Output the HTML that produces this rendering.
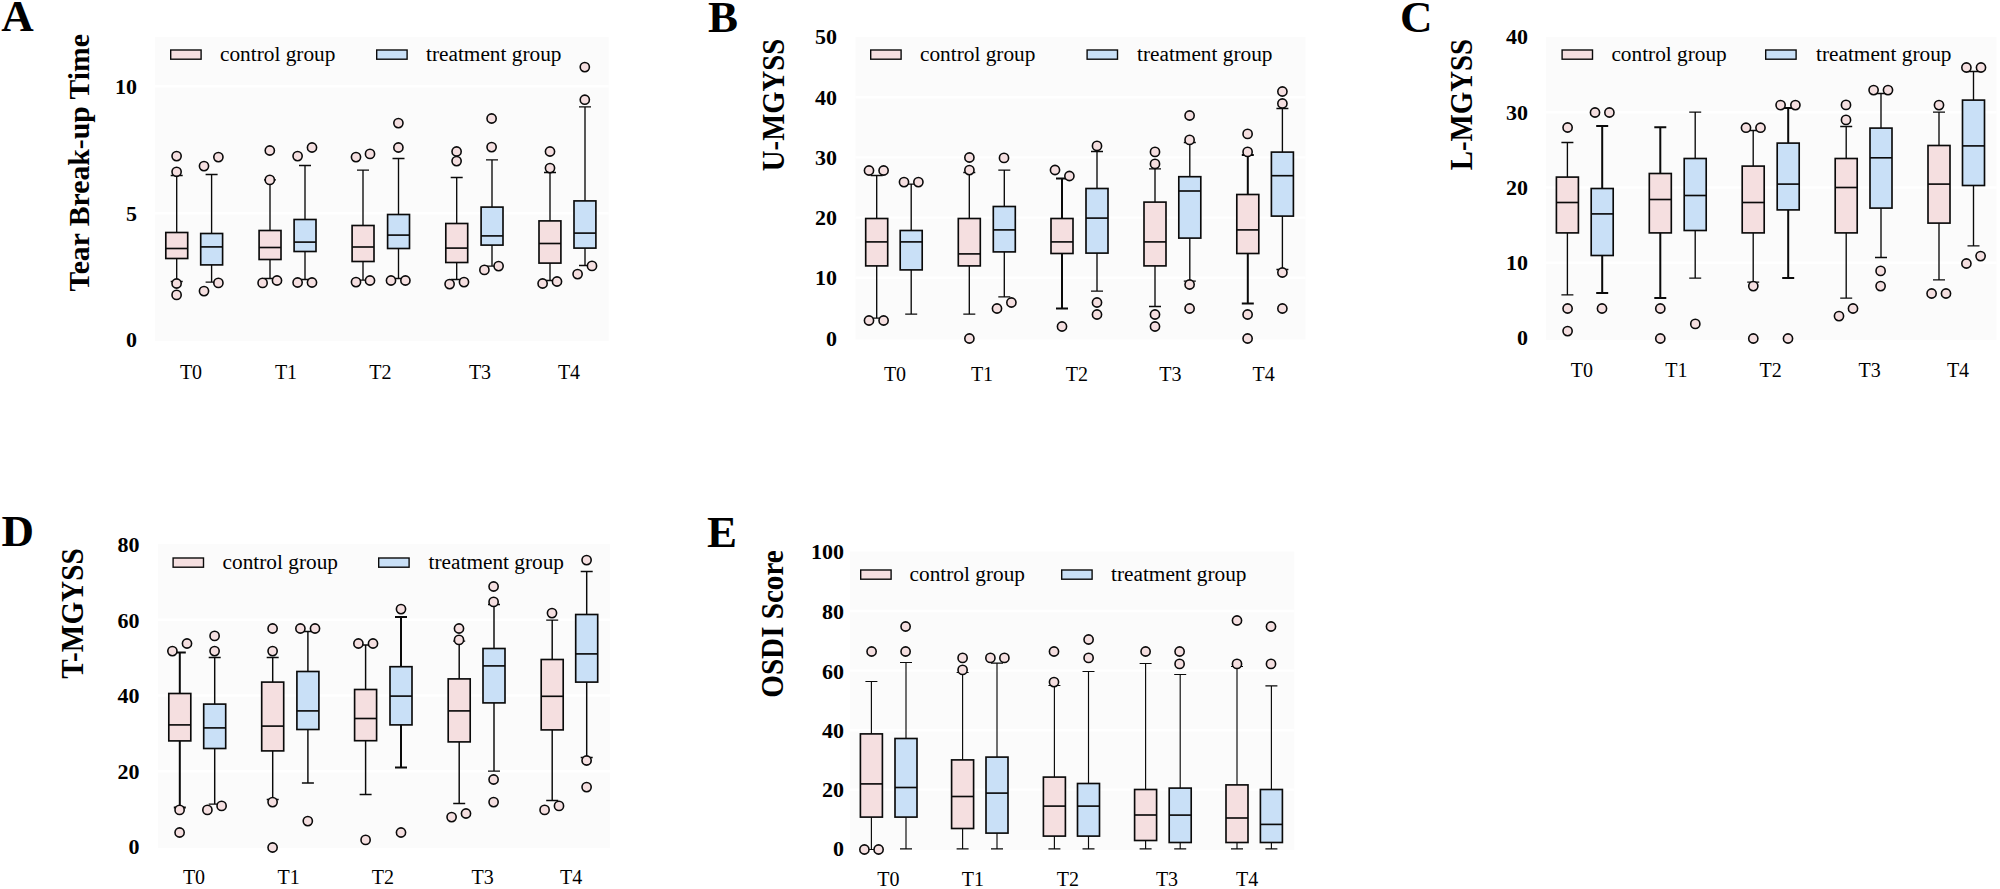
<!DOCTYPE html>
<html lang="en"><head><meta charset="utf-8"><title>Figure</title>
<style>
html,body{margin:0;padding:0;background:#fff;}
body{width:2000px;height:889px;overflow:hidden;}
svg{display:block;font-family:"Liberation Serif","DejaVu Serif",serif;}
.pl{font-weight:bold;font-size:45px;}
.yl{font-weight:bold;font-size:29.5px;}
.yt{font-weight:bold;font-size:22px;text-anchor:end;}
.xt{font-size:20px;text-anchor:middle;}
.lg{font-size:21.3px;}
.bx{stroke:#0a0a0a;stroke-width:1.65;}
.wl{stroke:#0a0a0a;stroke-width:1.35;fill:none;}
.md{stroke:#0a0a0a;stroke-width:1.65;}
.oc{fill:#f5dfe0;stroke:#0a0a0a;stroke-width:1.6;}
.gl{stroke:#fff;stroke-width:2.4;}
</style></head><body>
<svg width="2000" height="889" viewBox="0 0 2000 889">
<rect x="0" y="0" width="2000" height="889" fill="#fff"/>
<g>
<rect x="155" y="37" width="453.6" height="304" fill="#fbfbfb"/>
<line class="gl" x1="155" y1="86.2" x2="608.6" y2="86.2"/>
<line class="gl" x1="155" y1="213.3" x2="608.6" y2="213.3"/>
<text class="pl" x="1.3" y="31.3">A</text>
<text class="yl" style="font-size:29.5px" text-anchor="middle" textLength="257.5" lengthAdjust="spacingAndGlyphs" transform="translate(88.7 162.7) rotate(-90)">Tear Break-up Time</text>
<text class="yt" x="137" y="94">10</text>
<text class="yt" x="137" y="220.6">5</text>
<text class="yt" x="137" y="347.4">0</text>
<text class="xt" x="191" y="379">T0</text>
<text class="xt" x="286" y="379">T1</text>
<text class="xt" x="380.3" y="379">T2</text>
<text class="xt" x="480" y="379">T3</text>
<text class="xt" x="569" y="379">T4</text>
<rect class="bx" style="stroke-width:1.4" x="170.7" y="50" width="30.4" height="9.2" fill="#f5dfe0"/>
<text class="lg" x="220" y="61">control group</text>
<rect class="bx" style="stroke-width:1.4" x="376.7" y="50" width="30.4" height="9.2" fill="#c9e0f7"/>
<text class="lg" x="426" y="61">treatment group</text>
<path class="wl" style="stroke-width:1.35" d="M176.7 175.5V232.5M176.7 258.5V281.5M170.7 175.5H182.7M170.7 281.5H182.7"/>
<rect class="bx" x="165.8" y="232.5" width="21.9" height="26" fill="#f5dfe0"/>
<line class="md" x1="165.8" y1="248.5" x2="187.6" y2="248.5"/>
<circle class="oc" cx="176.6" cy="156.1" r="4.6"/>
<circle class="oc" cx="176.6" cy="171.8" r="4.6"/>
<circle class="oc" cx="176.6" cy="283.5" r="4.6"/>
<circle class="oc" cx="176.6" cy="294.9" r="4.6"/>
<path class="wl" style="stroke-width:1.35" d="M211.6 174.5V233.5M211.6 264.9V282.1M205.6 174.5H217.6M205.6 282.1H217.6"/>
<rect class="bx" x="200.7" y="233.5" width="21.9" height="31.4" fill="#c9e0f7"/>
<line class="md" x1="200.7" y1="246.9" x2="222.5" y2="246.9"/>
<circle class="oc" cx="204" cy="166.1" r="4.6"/>
<circle class="oc" cx="218.4" cy="157.1" r="4.6"/>
<circle class="oc" cx="218.4" cy="282.9" r="4.6"/>
<circle class="oc" cx="204" cy="291.1" r="4.6"/>
<path class="wl" style="stroke-width:1.35" d="M270 179.9V230.5M270 259.5V278.5M264 179.9H276M264 278.5H276"/>
<rect class="bx" x="259.1" y="230.5" width="21.9" height="29" fill="#f5dfe0"/>
<line class="md" x1="259.1" y1="247.5" x2="280.9" y2="247.5"/>
<circle class="oc" cx="269.8" cy="150.5" r="4.6"/>
<circle class="oc" cx="269.8" cy="179.9" r="4.6"/>
<circle class="oc" cx="262.6" cy="282.9" r="4.6"/>
<circle class="oc" cx="277" cy="280.5" r="4.6"/>
<path class="wl" style="stroke-width:1.35" d="M305 165.5V219.5M305 251.5V279.5M299 165.5H311M299 279.5H311"/>
<rect class="bx" x="294.1" y="219.5" width="21.9" height="32" fill="#c9e0f7"/>
<line class="md" x1="294.1" y1="242.1" x2="315.9" y2="242.1"/>
<circle class="oc" cx="297.6" cy="156.1" r="4.6"/>
<circle class="oc" cx="312" cy="147.5" r="4.6"/>
<circle class="oc" cx="297.6" cy="282.5" r="4.6"/>
<circle class="oc" cx="312" cy="282.5" r="4.6"/>
<path class="wl" style="stroke-width:1.35" d="M363 170.1V225.5M363 261.5V280.1M357 170.1H369M357 280.1H369"/>
<rect class="bx" x="352.1" y="225.5" width="21.9" height="36" fill="#f5dfe0"/>
<line class="md" x1="352.1" y1="247" x2="373.9" y2="247"/>
<circle class="oc" cx="356" cy="157.1" r="4.6"/>
<circle class="oc" cx="370" cy="153.9" r="4.6"/>
<circle class="oc" cx="356" cy="282.1" r="4.6"/>
<circle class="oc" cx="370" cy="280.5" r="4.6"/>
<path class="wl" style="stroke-width:1.35" d="M398.5 158.5V214.5M398.5 248.5V278.5M392.5 158.5H404.5M392.5 278.5H404.5"/>
<rect class="bx" x="387.6" y="214.5" width="21.9" height="34" fill="#c9e0f7"/>
<line class="md" x1="387.6" y1="235.1" x2="409.4" y2="235.1"/>
<circle class="oc" cx="398.4" cy="123.1" r="4.6"/>
<circle class="oc" cx="398.4" cy="147.5" r="4.6"/>
<circle class="oc" cx="391" cy="280.5" r="4.6"/>
<circle class="oc" cx="405.4" cy="280.5" r="4.6"/>
<path class="wl" style="stroke-width:1.35" d="M456.7 177.5V223.5M456.7 262.5V279.5M450.7 177.5H462.7M450.7 279.5H462.7"/>
<rect class="bx" x="445.8" y="223.5" width="21.9" height="39" fill="#f5dfe0"/>
<line class="md" x1="445.8" y1="248.1" x2="467.6" y2="248.1"/>
<circle class="oc" cx="456.6" cy="151.5" r="4.6"/>
<circle class="oc" cx="456.6" cy="161.1" r="4.6"/>
<circle class="oc" cx="449.6" cy="284.1" r="4.6"/>
<circle class="oc" cx="464" cy="282.1" r="4.6"/>
<path class="wl" style="stroke-width:1.35" d="M492 159.9V207.1M492 245.1V266.1M486 159.9H498M486 266.1H498"/>
<rect class="bx" x="481.1" y="207.1" width="21.9" height="38" fill="#c9e0f7"/>
<line class="md" x1="481.1" y1="235.9" x2="502.9" y2="235.9"/>
<circle class="oc" cx="491.6" cy="118.5" r="4.6"/>
<circle class="oc" cx="491.6" cy="147.1" r="4.6"/>
<circle class="oc" cx="484.4" cy="269.9" r="4.6"/>
<circle class="oc" cx="498.6" cy="266.1" r="4.6"/>
<path class="wl" style="stroke-width:1.35" d="M550 172.5V220.9M550 263.1V280.5M544 172.5H556M544 280.5H556"/>
<rect class="bx" x="539" y="220.9" width="21.9" height="42.2" fill="#f5dfe0"/>
<line class="md" x1="539" y1="243.5" x2="561" y2="243.5"/>
<circle class="oc" cx="550" cy="151.5" r="4.6"/>
<circle class="oc" cx="550" cy="168.1" r="4.6"/>
<circle class="oc" cx="542.6" cy="283.5" r="4.6"/>
<circle class="oc" cx="557" cy="281.5" r="4.6"/>
<path class="wl" style="stroke-width:1.35" d="M585 106.9V200.9M585 248.1V265.5M579 106.9H591M579 265.5H591"/>
<rect class="bx" x="574" y="200.9" width="21.9" height="47.2" fill="#c9e0f7"/>
<line class="md" x1="574" y1="233.1" x2="596" y2="233.1"/>
<circle class="oc" cx="584.8" cy="67.1" r="4.6"/>
<circle class="oc" cx="584.8" cy="99.7" r="4.6"/>
<circle class="oc" cx="577.6" cy="274.1" r="4.6"/>
<circle class="oc" cx="592" cy="265.9" r="4.6"/>
</g>
<g>
<rect x="855.5" y="37" width="450" height="302.5" fill="#fbfbfb"/>
<line class="gl" x1="855.5" y1="97.2" x2="1305.5" y2="97.2"/>
<line class="gl" x1="855.5" y1="157.4" x2="1305.5" y2="157.4"/>
<line class="gl" x1="855.5" y1="217.6" x2="1305.5" y2="217.6"/>
<line class="gl" x1="855.5" y1="277.8" x2="1305.5" y2="277.8"/>
<text class="pl" x="708" y="32">B</text>
<text class="yl" style="font-size:30.8px" text-anchor="middle" textLength="132.3" lengthAdjust="spacingAndGlyphs" transform="translate(784.4 105) rotate(-90)">U-MGYSS</text>
<text class="yt" x="837" y="44">50</text>
<text class="yt" x="837" y="104.8">40</text>
<text class="yt" x="837" y="164.8">30</text>
<text class="yt" x="837" y="225.3">20</text>
<text class="yt" x="837" y="285.3">10</text>
<text class="yt" x="837" y="345.6">0</text>
<text class="xt" x="895" y="381">T0</text>
<text class="xt" x="982" y="381">T1</text>
<text class="xt" x="1076.8" y="381">T2</text>
<text class="xt" x="1170.3" y="381">T3</text>
<text class="xt" x="1263.6" y="381">T4</text>
<rect class="bx" style="stroke-width:1.4" x="870.7" y="50" width="30.4" height="9.2" fill="#f5dfe0"/>
<text class="lg" x="920" y="61">control group</text>
<rect class="bx" style="stroke-width:1.4" x="1087.1" y="50" width="30.4" height="9.2" fill="#c9e0f7"/>
<text class="lg" x="1137" y="61">treatment group</text>
<path class="wl" style="stroke-width:1.35" d="M876.7 175.5V218.5M876.7 265.9V318.1M870.7 175.5H882.7M870.7 318.1H882.7"/>
<rect class="bx" x="865.7" y="218.5" width="22" height="47.4" fill="#f5dfe0"/>
<line class="md" x1="865.7" y1="241.9" x2="887.7" y2="241.9"/>
<circle class="oc" cx="869" cy="170.5" r="4.6"/>
<circle class="oc" cx="883.6" cy="170.5" r="4.6"/>
<circle class="oc" cx="869" cy="320.5" r="4.6"/>
<circle class="oc" cx="883.6" cy="320.5" r="4.6"/>
<path class="wl" style="stroke-width:1.35" d="M911.2 184.1V230.5M911.2 269.9V314.1M905.2 184.1H917.2M905.2 314.1H917.2"/>
<rect class="bx" x="900.2" y="230.5" width="22" height="39.4" fill="#c9e0f7"/>
<line class="md" x1="900.2" y1="241.9" x2="922.2" y2="241.9"/>
<circle class="oc" cx="904" cy="182.1" r="4.6"/>
<circle class="oc" cx="918.4" cy="182.1" r="4.6"/>
<path class="wl" style="stroke-width:1.35" d="M969.3 172.5V218.5M969.3 265.9V314.1M963.3 172.5H975.3M963.3 314.1H975.3"/>
<rect class="bx" x="958.3" y="218.5" width="22" height="47.4" fill="#f5dfe0"/>
<line class="md" x1="958.3" y1="253.9" x2="980.3" y2="253.9"/>
<circle class="oc" cx="969.4" cy="157.5" r="4.6"/>
<circle class="oc" cx="969.4" cy="170.1" r="4.6"/>
<circle class="oc" cx="969.4" cy="338.5" r="4.6"/>
<path class="wl" style="stroke-width:1.35" d="M1004.3 170.1V206.5M1004.3 251.9V296.9M998.3 170.1H1010.3M998.3 296.9H1010.3"/>
<rect class="bx" x="993.3" y="206.5" width="22" height="45.4" fill="#c9e0f7"/>
<line class="md" x1="993.3" y1="229.9" x2="1015.3" y2="229.9"/>
<circle class="oc" cx="1004" cy="157.9" r="4.6"/>
<circle class="oc" cx="997" cy="308.5" r="4.6"/>
<circle class="oc" cx="1011.4" cy="302.5" r="4.6"/>
<path class="wl" style="stroke-width:2" d="M1062 178.5V218.5M1062 253.5V308.5M1056 178.5H1068M1056 308.5H1068"/>
<rect class="bx" x="1051" y="218.5" width="22" height="35" fill="#f5dfe0"/>
<line class="md" x1="1051" y1="241.9" x2="1073" y2="241.9"/>
<circle class="oc" cx="1055" cy="170" r="4.6"/>
<circle class="oc" cx="1069.4" cy="176" r="4.6"/>
<circle class="oc" cx="1062" cy="326.5" r="4.6"/>
<path class="wl" style="stroke-width:1.35" d="M1097 151.5V188.5M1097 253.1V291.1M1091 151.5H1103M1091 291.1H1103"/>
<rect class="bx" x="1086" y="188.5" width="22" height="64.6" fill="#c9e0f7"/>
<line class="md" x1="1086" y1="218.1" x2="1108" y2="218.1"/>
<circle class="oc" cx="1097" cy="145.9" r="4.6"/>
<circle class="oc" cx="1097" cy="302.5" r="4.6"/>
<circle class="oc" cx="1097" cy="314.5" r="4.6"/>
<path class="wl" style="stroke-width:1.35" d="M1155 168.9V202.1M1155 265.9V306.5M1149 168.9H1161M1149 306.5H1161"/>
<rect class="bx" x="1144" y="202.1" width="22" height="63.8" fill="#f5dfe0"/>
<line class="md" x1="1144" y1="241.9" x2="1166" y2="241.9"/>
<circle class="oc" cx="1155" cy="151.9" r="4.6"/>
<circle class="oc" cx="1155" cy="163.9" r="4.6"/>
<circle class="oc" cx="1155" cy="314.5" r="4.6"/>
<circle class="oc" cx="1155" cy="326.5" r="4.6"/>
<path class="wl" style="stroke-width:1.35" d="M1189.8 142.5V176.7M1189.8 238.1V281.1M1183.8 142.5H1195.8M1183.8 281.1H1195.8"/>
<rect class="bx" x="1178.8" y="176.7" width="22" height="61.4" fill="#c9e0f7"/>
<line class="md" x1="1178.8" y1="191" x2="1200.8" y2="191"/>
<circle class="oc" cx="1189.6" cy="115.5" r="4.6"/>
<circle class="oc" cx="1189.6" cy="139.9" r="4.6"/>
<circle class="oc" cx="1189.6" cy="284.5" r="4.6"/>
<circle class="oc" cx="1189.6" cy="308.5" r="4.6"/>
<path class="wl" style="stroke-width:2" d="M1247.8 154.9V194.5M1247.8 253.5V303.5M1241.8 154.9H1253.8M1241.8 303.5H1253.8"/>
<rect class="bx" x="1236.8" y="194.5" width="22" height="59" fill="#f5dfe0"/>
<line class="md" x1="1236.8" y1="229.9" x2="1258.8" y2="229.9"/>
<circle class="oc" cx="1247.6" cy="133.9" r="4.6"/>
<circle class="oc" cx="1247.6" cy="151.9" r="4.6"/>
<circle class="oc" cx="1247.6" cy="314.5" r="4.6"/>
<circle class="oc" cx="1247.6" cy="338.5" r="4.6"/>
<path class="wl" style="stroke-width:1.35" d="M1282.4 108.5V152.1M1282.4 216.1V269.5M1276.4 108.5H1288.4M1276.4 269.5H1288.4"/>
<rect class="bx" x="1271.4" y="152.1" width="22" height="64" fill="#c9e0f7"/>
<line class="md" x1="1271.4" y1="175.7" x2="1293.4" y2="175.7"/>
<circle class="oc" cx="1282.4" cy="91.5" r="4.6"/>
<circle class="oc" cx="1282.4" cy="103.5" r="4.6"/>
<circle class="oc" cx="1282.4" cy="272.5" r="4.6"/>
<circle class="oc" cx="1282.4" cy="308.5" r="4.6"/>
</g>
<g>
<rect x="1546" y="37" width="450.5" height="303" fill="#fbfbfb"/>
<line class="gl" x1="1546" y1="112.2" x2="1996.5" y2="112.2"/>
<line class="gl" x1="1546" y1="187.5" x2="1996.5" y2="187.5"/>
<line class="gl" x1="1546" y1="262.7" x2="1996.5" y2="262.7"/>
<text class="pl" x="1400" y="32.3">C</text>
<text class="yl" style="font-size:30.8px" text-anchor="middle" textLength="131.5" lengthAdjust="spacingAndGlyphs" transform="translate(1472.4 104.6) rotate(-90)">L-MGYSS</text>
<text class="yt" x="1528" y="44.3">40</text>
<text class="yt" x="1528" y="119.5">30</text>
<text class="yt" x="1528" y="195.4">20</text>
<text class="yt" x="1528" y="270.2">10</text>
<text class="yt" x="1528" y="345.4">0</text>
<text class="xt" x="1581.8" y="376.8">T0</text>
<text class="xt" x="1676.4" y="376.8">T1</text>
<text class="xt" x="1770.6" y="376.8">T2</text>
<text class="xt" x="1869.7" y="376.8">T3</text>
<text class="xt" x="1958" y="376.8">T4</text>
<rect class="bx" style="stroke-width:1.4" x="1562.1" y="50" width="30.4" height="9.2" fill="#f5dfe0"/>
<text class="lg" x="1611.4" y="61">control group</text>
<rect class="bx" style="stroke-width:1.4" x="1765.7" y="50" width="30.4" height="9.2" fill="#c9e0f7"/>
<text class="lg" x="1816" y="61">treatment group</text>
<path class="wl" style="stroke-width:1.35" d="M1567.4 142.5V177.1M1567.4 232.9V294.9M1561.4 142.5H1573.4M1561.4 294.9H1573.4"/>
<rect class="bx" x="1556.4" y="177.1" width="22" height="55.8" fill="#f5dfe0"/>
<line class="md" x1="1556.4" y1="202.5" x2="1578.4" y2="202.5"/>
<circle class="oc" cx="1567.6" cy="127.5" r="4.6"/>
<circle class="oc" cx="1567.6" cy="308.5" r="4.6"/>
<circle class="oc" cx="1567.6" cy="331.1" r="4.6"/>
<path class="wl" style="stroke-width:2" d="M1602.2 125.9V188.5M1602.2 255.5V293.1M1596.2 125.9H1608.2M1596.2 293.1H1608.2"/>
<rect class="bx" x="1591.2" y="188.5" width="22" height="67" fill="#c9e0f7"/>
<line class="md" x1="1591.2" y1="213.9" x2="1613.2" y2="213.9"/>
<circle class="oc" cx="1595" cy="112.5" r="4.6"/>
<circle class="oc" cx="1609.4" cy="112.5" r="4.6"/>
<circle class="oc" cx="1602" cy="308.5" r="4.6"/>
<path class="wl" style="stroke-width:2" d="M1660.3 127.3V173.5M1660.3 232.9V298.1M1654.3 127.3H1666.3M1654.3 298.1H1666.3"/>
<rect class="bx" x="1649.3" y="173.5" width="22" height="59.4" fill="#f5dfe0"/>
<line class="md" x1="1649.3" y1="199.5" x2="1671.3" y2="199.5"/>
<circle class="oc" cx="1660.3" cy="308.5" r="4.6"/>
<circle class="oc" cx="1660.3" cy="338.5" r="4.6"/>
<path class="wl" style="stroke-width:1.35" d="M1695.2 112.1V158.5M1695.2 230.5V278.1M1689.2 112.1H1701.2M1689.2 278.1H1701.2"/>
<rect class="bx" x="1684.2" y="158.5" width="22" height="72" fill="#c9e0f7"/>
<line class="md" x1="1684.2" y1="195.5" x2="1706.2" y2="195.5"/>
<circle class="oc" cx="1695.3" cy="323.9" r="4.6"/>
<path class="wl" style="stroke-width:1.35" d="M1753.2 130.5V166.1M1753.2 232.9V282.1M1747.2 130.5H1759.2M1747.2 282.1H1759.2"/>
<rect class="bx" x="1742.2" y="166.1" width="22" height="66.8" fill="#f5dfe0"/>
<line class="md" x1="1742.2" y1="202.5" x2="1764.2" y2="202.5"/>
<circle class="oc" cx="1746" cy="127.7" r="4.6"/>
<circle class="oc" cx="1760.5" cy="127.7" r="4.6"/>
<circle class="oc" cx="1753.3" cy="286.1" r="4.6"/>
<circle class="oc" cx="1753.3" cy="338.5" r="4.6"/>
<path class="wl" style="stroke-width:2" d="M1788.2 108.1V143.1M1788.2 209.9V278.1M1782.2 108.1H1794.2M1782.2 278.1H1794.2"/>
<rect class="bx" x="1777.2" y="143.1" width="22" height="66.8" fill="#c9e0f7"/>
<line class="md" x1="1777.2" y1="184.1" x2="1799.2" y2="184.1"/>
<circle class="oc" cx="1780.6" cy="105.1" r="4.6"/>
<circle class="oc" cx="1795.4" cy="105.1" r="4.6"/>
<circle class="oc" cx="1788" cy="338.5" r="4.6"/>
<path class="wl" style="stroke-width:1.35" d="M1846.2 126.5V158.5M1846.2 232.9V298.1M1840.2 126.5H1852.2M1840.2 298.1H1852.2"/>
<rect class="bx" x="1835.2" y="158.5" width="22" height="74.4" fill="#f5dfe0"/>
<line class="md" x1="1835.2" y1="187.5" x2="1857.2" y2="187.5"/>
<circle class="oc" cx="1846" cy="104.9" r="4.6"/>
<circle class="oc" cx="1846" cy="119.9" r="4.6"/>
<circle class="oc" cx="1839" cy="316.1" r="4.6"/>
<circle class="oc" cx="1853" cy="308.5" r="4.6"/>
<path class="wl" style="stroke-width:1.35" d="M1881 93.5V128.1M1881 208.1V257.5M1875 93.5H1887M1875 257.5H1887"/>
<rect class="bx" x="1870" y="128.1" width="22" height="80" fill="#c9e0f7"/>
<line class="md" x1="1870" y1="157.8" x2="1892" y2="157.8"/>
<circle class="oc" cx="1873.6" cy="90.1" r="4.6"/>
<circle class="oc" cx="1888" cy="90.1" r="4.6"/>
<circle class="oc" cx="1880.6" cy="270.9" r="4.6"/>
<circle class="oc" cx="1880.6" cy="286.1" r="4.6"/>
<path class="wl" style="stroke-width:1.35" d="M1939 112.1V145.5M1939 223.1V279.9M1933 112.1H1945M1933 279.9H1945"/>
<rect class="bx" x="1928" y="145.5" width="22" height="77.6" fill="#f5dfe0"/>
<line class="md" x1="1928" y1="184.1" x2="1950" y2="184.1"/>
<circle class="oc" cx="1939" cy="105.1" r="4.6"/>
<circle class="oc" cx="1931.6" cy="293.5" r="4.6"/>
<circle class="oc" cx="1946" cy="293.5" r="4.6"/>
<path class="wl" style="stroke-width:1.35" d="M1973.5 71.5V100.1M1973.5 185.5V245.9M1967.5 71.5H1979.5M1967.5 245.9H1979.5"/>
<rect class="bx" x="1962.5" y="100.1" width="22" height="85.4" fill="#c9e0f7"/>
<line class="md" x1="1962.5" y1="145.9" x2="1984.5" y2="145.9"/>
<circle class="oc" cx="1966.4" cy="67.5" r="4.6"/>
<circle class="oc" cx="1981" cy="67.5" r="4.6"/>
<circle class="oc" cx="1966.4" cy="263.5" r="4.6"/>
<circle class="oc" cx="1980.6" cy="256.1" r="4.6"/>
</g>
<g>
<rect x="158" y="544" width="452" height="304" fill="#fbfbfb"/>
<line class="gl" x1="158" y1="619.7" x2="610" y2="619.7"/>
<line class="gl" x1="158" y1="695.5" x2="610" y2="695.5"/>
<line class="gl" x1="158" y1="771.2" x2="610" y2="771.2"/>
<text class="pl" x="1.6" y="546">D</text>
<text class="yl" style="font-size:30.8px" text-anchor="middle" textLength="130.5" lengthAdjust="spacingAndGlyphs" transform="translate(82.8 613.5) rotate(-90)">T-MGYSS</text>
<text class="yt" x="139.5" y="551.6">80</text>
<text class="yt" x="139.5" y="627.6">60</text>
<text class="yt" x="139.5" y="703.4">40</text>
<text class="yt" x="139.5" y="778.8">20</text>
<text class="yt" x="139.5" y="854.3">0</text>
<text class="xt" x="194" y="884.2">T0</text>
<text class="xt" x="288.7" y="884.2">T1</text>
<text class="xt" x="382.8" y="884.2">T2</text>
<text class="xt" x="482.7" y="884.2">T3</text>
<text class="xt" x="571.2" y="884.2">T4</text>
<rect class="bx" style="stroke-width:1.4" x="173.1" y="558" width="30.4" height="9.2" fill="#f5dfe0"/>
<text class="lg" x="222.6" y="569">control group</text>
<rect class="bx" style="stroke-width:1.4" x="378.7" y="558" width="30.4" height="9.2" fill="#c9e0f7"/>
<text class="lg" x="428.6" y="569">treatment group</text>
<path class="wl" style="stroke-width:2" d="M179.8 652.5V693.5M179.8 740.9V807.5M173.8 652.5H185.8M173.8 807.5H185.8"/>
<rect class="bx" x="168.8" y="693.5" width="22" height="47.4" fill="#f5dfe0"/>
<line class="md" x1="168.8" y1="724.9" x2="190.8" y2="724.9"/>
<circle class="oc" cx="172.4" cy="651.1" r="4.6"/>
<circle class="oc" cx="187" cy="643.5" r="4.6"/>
<circle class="oc" cx="179.6" cy="809.9" r="4.6"/>
<circle class="oc" cx="179.6" cy="832.5" r="4.6"/>
<path class="wl" style="stroke-width:1.45" d="M214.7 657.5V704.1M214.7 748.5V804.1M208.7 657.5H220.7M208.7 804.1H220.7"/>
<rect class="bx" x="203.7" y="704.1" width="22" height="44.4" fill="#c9e0f7"/>
<line class="md" x1="203.7" y1="727.9" x2="225.7" y2="727.9"/>
<circle class="oc" cx="214.6" cy="635.9" r="4.6"/>
<circle class="oc" cx="214.6" cy="651.1" r="4.6"/>
<circle class="oc" cx="207.4" cy="809.9" r="4.6"/>
<circle class="oc" cx="221.6" cy="805.9" r="4.6"/>
<path class="wl" style="stroke-width:1.45" d="M272.7 657.5V682.1M272.7 750.9V799.5M266.7 657.5H278.7M266.7 799.5H278.7"/>
<rect class="bx" x="261.7" y="682.1" width="22" height="68.8" fill="#f5dfe0"/>
<line class="md" x1="261.7" y1="726.1" x2="283.7" y2="726.1"/>
<circle class="oc" cx="272.6" cy="628.5" r="4.6"/>
<circle class="oc" cx="272.6" cy="651.1" r="4.6"/>
<circle class="oc" cx="272.6" cy="802.1" r="4.6"/>
<circle class="oc" cx="272.6" cy="847.5" r="4.6"/>
<path class="wl" style="stroke-width:1.45" d="M307.9 631.5V671.5M307.9 729.5V782.9M301.9 631.5H313.9M301.9 782.9H313.9"/>
<rect class="bx" x="296.9" y="671.5" width="22" height="58" fill="#c9e0f7"/>
<line class="md" x1="296.9" y1="710.9" x2="318.9" y2="710.9"/>
<circle class="oc" cx="300.4" cy="628.5" r="4.6"/>
<circle class="oc" cx="315" cy="628.5" r="4.6"/>
<circle class="oc" cx="307.8" cy="821.1" r="4.6"/>
<path class="wl" style="stroke-width:1.45" d="M365.6 644.9V689.5M365.6 740.7V794.5M359.6 644.9H371.6M359.6 794.5H371.6"/>
<rect class="bx" x="354.6" y="689.5" width="22" height="51.2" fill="#f5dfe0"/>
<line class="md" x1="354.6" y1="718.5" x2="376.6" y2="718.5"/>
<circle class="oc" cx="358.4" cy="643.5" r="4.6"/>
<circle class="oc" cx="373" cy="643.5" r="4.6"/>
<circle class="oc" cx="365.6" cy="839.9" r="4.6"/>
<path class="wl" style="stroke-width:2" d="M401 617.1V666.7M401 724.9V767.5M395 617.1H407M395 767.5H407"/>
<rect class="bx" x="390" y="666.7" width="22" height="58.2" fill="#c9e0f7"/>
<line class="md" x1="390" y1="696.1" x2="412" y2="696.1"/>
<circle class="oc" cx="401" cy="609.1" r="4.6"/>
<circle class="oc" cx="401" cy="832.5" r="4.6"/>
<path class="wl" style="stroke-width:1.45" d="M459.2 641.1V678.9M459.2 741.9V803.5M453.2 641.1H465.2M453.2 803.5H465.2"/>
<rect class="bx" x="448.2" y="678.9" width="22" height="63" fill="#f5dfe0"/>
<line class="md" x1="448.2" y1="710.9" x2="470.2" y2="710.9"/>
<circle class="oc" cx="459" cy="628.5" r="4.6"/>
<circle class="oc" cx="459" cy="639.9" r="4.6"/>
<circle class="oc" cx="451.6" cy="817.1" r="4.6"/>
<circle class="oc" cx="466" cy="813.5" r="4.6"/>
<path class="wl" style="stroke-width:1.45" d="M494 604.5V648.5M494 702.9V771.1M488 604.5H500M488 771.1H500"/>
<rect class="bx" x="483" y="648.5" width="22" height="54.4" fill="#c9e0f7"/>
<line class="md" x1="483" y1="665.9" x2="505" y2="665.9"/>
<circle class="oc" cx="493.6" cy="586.5" r="4.6"/>
<circle class="oc" cx="493.6" cy="601.9" r="4.6"/>
<circle class="oc" cx="493.6" cy="779.5" r="4.6"/>
<circle class="oc" cx="493.6" cy="802.1" r="4.6"/>
<path class="wl" style="stroke-width:1.45" d="M552.2 620.1V659.5M552.2 729.9V800.5M546.2 620.1H558.2M546.2 800.5H558.2"/>
<rect class="bx" x="541.2" y="659.5" width="22" height="70.4" fill="#f5dfe0"/>
<line class="md" x1="541.2" y1="696.3" x2="563.2" y2="696.3"/>
<circle class="oc" cx="552" cy="613.1" r="4.6"/>
<circle class="oc" cx="544.6" cy="809.9" r="4.6"/>
<circle class="oc" cx="559" cy="805.9" r="4.6"/>
<path class="wl" style="stroke-width:1.45" d="M586.7 571.5V614.5M586.7 682.1V757.5M580.7 571.5H592.7M580.7 757.5H592.7"/>
<rect class="bx" x="575.7" y="614.5" width="22" height="67.6" fill="#c9e0f7"/>
<line class="md" x1="575.7" y1="653.9" x2="597.7" y2="653.9"/>
<circle class="oc" cx="586.6" cy="560.1" r="4.6"/>
<circle class="oc" cx="586.6" cy="760.5" r="4.6"/>
<circle class="oc" cx="586.6" cy="787.1" r="4.6"/>
</g>
<g>
<rect x="850" y="551.6" width="444.2" height="298.4" fill="#fbfbfb"/>
<line class="gl" x1="850" y1="611" x2="1294.2" y2="611"/>
<line class="gl" x1="850" y1="670.6" x2="1294.2" y2="670.6"/>
<line class="gl" x1="850" y1="730.2" x2="1294.2" y2="730.2"/>
<line class="gl" x1="850" y1="789.6" x2="1294.2" y2="789.6"/>
<text class="pl" x="707" y="546.5">E</text>
<text class="yl" style="font-size:30.8px" text-anchor="middle" textLength="147.5" lengthAdjust="spacingAndGlyphs" transform="translate(783.4 624) rotate(-90)">OSDI Score</text>
<text class="yt" x="844" y="559.4">100</text>
<text class="yt" x="844" y="619">80</text>
<text class="yt" x="844" y="678.5">60</text>
<text class="yt" x="844" y="738.2">40</text>
<text class="yt" x="844" y="797.2">20</text>
<text class="yt" x="844" y="856.2">0</text>
<text class="xt" x="888.4" y="885.6">T0</text>
<text class="xt" x="972.9" y="885.6">T1</text>
<text class="xt" x="1067.9" y="885.6">T2</text>
<text class="xt" x="1167" y="885.6">T3</text>
<text class="xt" x="1247.2" y="885.6">T4</text>
<rect class="bx" style="stroke-width:1.4" x="860.7" y="570" width="30.4" height="9.2" fill="#f5dfe0"/>
<text class="lg" x="909.6" y="581">control group</text>
<rect class="bx" style="stroke-width:1.4" x="1061.7" y="570" width="30.4" height="9.2" fill="#c9e0f7"/>
<text class="lg" x="1111" y="581">treatment group</text>
<path class="wl" style="stroke-width:1.15" d="M871.4 681.5V733.9M871.4 817.1V849.5M865.4 681.5H877.4M865.4 849.5H877.4"/>
<rect class="bx" x="860.4" y="733.9" width="22" height="83.2" fill="#f5dfe0"/>
<line class="md" x1="860.4" y1="783.9" x2="882.4" y2="783.9"/>
<circle class="oc" cx="871.6" cy="651.5" r="4.6"/>
<circle class="oc" cx="864.4" cy="849.5" r="4.6"/>
<circle class="oc" cx="878.6" cy="849.5" r="4.6"/>
<path class="wl" style="stroke-width:1.15" d="M906 662.5V738.5M906 817.1V848.9M900 662.5H912M900 848.9H912"/>
<rect class="bx" x="895" y="738.5" width="22" height="78.6" fill="#c9e0f7"/>
<line class="md" x1="895" y1="787.5" x2="917" y2="787.5"/>
<circle class="oc" cx="905.6" cy="626.5" r="4.6"/>
<circle class="oc" cx="905.6" cy="651.5" r="4.6"/>
<path class="wl" style="stroke-width:1.15" d="M962.6 672.5V759.9M962.6 828.5V848.9M956.6 672.5H968.6M956.6 848.9H968.6"/>
<rect class="bx" x="951.6" y="759.9" width="22" height="68.6" fill="#f5dfe0"/>
<line class="md" x1="951.6" y1="796.5" x2="973.6" y2="796.5"/>
<circle class="oc" cx="962.6" cy="657.9" r="4.6"/>
<circle class="oc" cx="962.6" cy="669.9" r="4.6"/>
<path class="wl" style="stroke-width:1.15" d="M997 663.1V757.1M997 833.1V848.9M991 663.1H1003M991 848.9H1003"/>
<rect class="bx" x="986" y="757.1" width="22" height="76" fill="#c9e0f7"/>
<line class="md" x1="986" y1="793.1" x2="1008" y2="793.1"/>
<circle class="oc" cx="990.4" cy="657.9" r="4.6"/>
<circle class="oc" cx="1004.4" cy="657.9" r="4.6"/>
<path class="wl" style="stroke-width:1.15" d="M1054.4 685.5V777.1M1054.4 836.1V848.9M1048.4 685.5H1060.4M1048.4 848.9H1060.4"/>
<rect class="bx" x="1043.4" y="777.1" width="22" height="59" fill="#f5dfe0"/>
<line class="md" x1="1043.4" y1="806.1" x2="1065.4" y2="806.1"/>
<circle class="oc" cx="1054" cy="651.5" r="4.6"/>
<circle class="oc" cx="1054" cy="682.1" r="4.6"/>
<path class="wl" style="stroke-width:1.15" d="M1088.5 671.5V783.5M1088.5 836.1V848.9M1082.5 671.5H1094.5M1082.5 848.9H1094.5"/>
<rect class="bx" x="1077.5" y="783.5" width="22" height="52.6" fill="#c9e0f7"/>
<line class="md" x1="1077.5" y1="806.1" x2="1099.5" y2="806.1"/>
<circle class="oc" cx="1088.6" cy="639.5" r="4.6"/>
<circle class="oc" cx="1088.6" cy="657.9" r="4.6"/>
<path class="wl" style="stroke-width:1.15" d="M1145.6 663.5V789.5M1145.6 840.5V848.9M1139.6 663.5H1151.6M1139.6 848.9H1151.6"/>
<rect class="bx" x="1134.6" y="789.5" width="22" height="51" fill="#f5dfe0"/>
<line class="md" x1="1134.6" y1="815" x2="1156.6" y2="815"/>
<circle class="oc" cx="1145.6" cy="651.5" r="4.6"/>
<path class="wl" style="stroke-width:1.15" d="M1180.2 674.5V788.1M1180.2 842.5V848.9M1174.2 674.5H1186.2M1174.2 848.9H1186.2"/>
<rect class="bx" x="1169.2" y="788.1" width="22" height="54.4" fill="#c9e0f7"/>
<line class="md" x1="1169.2" y1="815.1" x2="1191.2" y2="815.1"/>
<circle class="oc" cx="1179.6" cy="651.5" r="4.6"/>
<circle class="oc" cx="1179.6" cy="663.9" r="4.6"/>
<path class="wl" style="stroke-width:1.15" d="M1237 666.5V784.9M1237 842.5V848.9M1231 666.5H1243M1231 848.9H1243"/>
<rect class="bx" x="1226" y="784.9" width="22" height="57.6" fill="#f5dfe0"/>
<line class="md" x1="1226" y1="818" x2="1248" y2="818"/>
<circle class="oc" cx="1237" cy="620.5" r="4.6"/>
<circle class="oc" cx="1237" cy="663.9" r="4.6"/>
<path class="wl" style="stroke-width:1.15" d="M1271.4 685.9V789.5M1271.4 842.5V848.9M1265.4 685.9H1277.4M1265.4 848.9H1277.4"/>
<rect class="bx" x="1260.4" y="789.5" width="22" height="53" fill="#c9e0f7"/>
<line class="md" x1="1260.4" y1="824.4" x2="1282.4" y2="824.4"/>
<circle class="oc" cx="1271" cy="626.5" r="4.6"/>
<circle class="oc" cx="1271" cy="663.9" r="4.6"/>
</g>
</svg></body></html>
